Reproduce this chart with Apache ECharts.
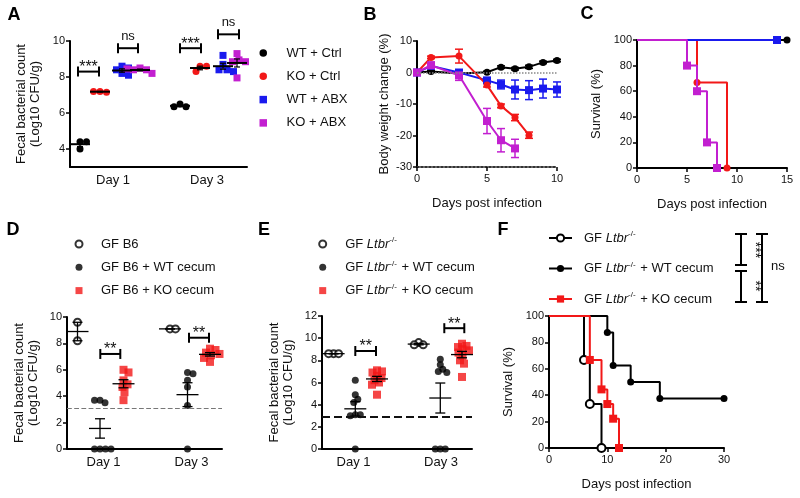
<!DOCTYPE html>
<html>
<head>
<meta charset="utf-8">
<title>Figure</title>
<script src="https://cdn.jsdelivr.net/npm/echarts@6.0.0/dist/echarts.min.js"></script>
<style>
html,body{margin:0;padding:0;background:#ffffff;}
#chart{width:800px;height:498px;}
</style>
</head>
<body>
<div id="chart"></div>
<script>
// ================= DATA =================
const dayLabels = ['Day 1', 'Day 3'];

// Panel A – fecal bacterial count (Log10 CFU/g): [Day 1 values, Day 3 values]
const groupNamesA = ['WT + Ctrl', 'KO + Ctrl', 'WT + ABX', 'KO + ABX'];
const aWTCtrl = [[4.4, 4.4, 4.0], [6.5, 6.35, 6.35]];
const aKOCtrl = [[7.2, 7.15, 7.2], [8.6, 8.6, 8.3]];
const aWTABX  = [[8.6, 8.5, 8.2, 8.1, 8.4], [9.2, 8.7, 8.4, 8.4, 8.3]];
const aKOABX  = [[8.5, 8.4, 8.4, 8.2, 8.45], [9.3, 8.95, 7.95, 8.85, 8.85]];
const sigA = ['***', 'ns', '***', 'ns'];

// Panel B – body weight change (%)
const bDaysWTCtrl = [0, 1, 3, 5, 6, 7, 8, 9, 10];
const bWTCtrl     = [0, 0.3, -0.3, 0.1, 1.7, 1.2, 1.8, 3.2, 3.8];
const bWTCtrlErr  = [0, 0.3, 0.4, 0.3, 0.4, 0.4, 0.5, 0.4, 0.4];
const bDaysKOCtrl = [0, 1, 3, 5, 6, 7, 8];
const bKOCtrl     = [0, 4.8, 5.2, -4.0, -10.6, -14.3, -19.9];
const bKOCtrlErr  = [0, 0.4, 2.2, 0.6, 0.6, 1.0, 1.0];
const bDaysWTABX  = [0, 1, 3, 5, 6, 7, 8, 9, 10];
const bWTABX      = [0, 2.1, 0, -2.5, -3.8, -5.4, -5.6, -5.1, -5.4];
const bWTABXErr   = [0, 0.5, 0.5, 0.8, 1.4, 3.0, 3.0, 3.0, 2.4];
const bDaysKOABX  = [0, 1, 3, 5, 6, 7];
const bKOABX      = [0, 2.3, -0.9, -15.4, -21.5, -24.1];
const bKOABXErr   = [0, 1.0, 1.6, 4.0, 3.7, 2.9];

// Panel C – survival (%)
const cDaysWTCtrl = [0, 15];         const cSurvWTCtrl = [100, 100];
const cDaysKOCtrl = [0, 6, 9];       const cSurvKOCtrl = [100, 66.7, 0];
const cDaysWTABX  = [0, 14];         const cSurvWTABX  = [100, 100];
const cDaysKOABX  = [0, 5, 6, 7, 8]; const cSurvKOABX  = [100, 80, 60, 20, 0];

// Panel D – GF B6 recipients
const groupNamesD = ['GF B6', 'GF B6 + WT cecum', 'GF B6 + KO cecum'];
const dGF = [[9.6, 8.2], [9.1, 9.1]];
const dWT = [[3.7, 3.5, 3.7, 0, 0, 0, 0], [5.8, 5.7, 5.2, 4.7, 3.3, 0]];
const dKO = [[6.0, 5.8, 5.2, 4.9, 4.7, 4.3, 3.7], [7.6, 7.5, 7.3, 7.2, 7.1, 6.9, 6.6]];
const dLimit = 3.05;
const sigD = ['**', '**'];

// Panel E – GF Ltbr-/- recipients
const groupNamesE = ['GF Ltbr-/-', 'GF Ltbr-/- + WT cecum', 'GF Ltbr-/- + KO cecum'];
const eGF = [[8.6, 8.6, 8.6], [9.6, 9.4, 9.4]];
const eWT = [[6.2, 4.9, 4.5, 4.2, 3.1, 3.1, 3.0, 0], [8.1, 7.6, 7.2, 7.0, 6.9, 0, 0, 0]];
const eKO = [[7.1, 7.0, 6.9, 6.6, 6.4, 6.2, 6.0, 5.8, 4.9], [9.5, 9.3, 9.2, 9.0, 8.9, 8.7, 8.4, 8.0, 7.7, 6.5]];
const eLimit = 2.9;
const sigE = ['**', '**'];

// Panel F – survival (%)
const fDaysGF = [0, 6, 7, 9];                const fSurvGF = [100, 66.7, 33.3, 0];
const fDaysWT = [0, 10, 11, 14, 19, 30];     const fSurvWT = [100, 87.5, 62.5, 50, 37.5, 37.5];
const fDaysKO = [0, 7, 9, 10, 11, 12];       const fSurvKO = [100, 66.7, 44.4, 33.3, 22.2, 0];
const sigF = ['***', '**', 'ns'];

// ================= LAYOUT / STYLE =================
const FONT = "'Liberation Sans', Arial, Helvetica, sans-serif";
const RED = '#f21818', BLUE = '#1a1aee', MAG = '#c21fd0', BLK = '#000000';
const GRID = [
  {left: 70,  top: 41,  width: 177, height: 126},   // A
  {left: 417, top: 41,  width: 140, height: 126},   // B
  {left: 637, top: 40,  width: 150, height: 128},   // C
  {left: 67,  top: 317, width: 155, height: 132},   // D
  {left: 322, top: 316, width: 150, height: 133},   // E
  {left: 549, top: 316, width: 175, height: 132}    // F
];
// group centre positions along the (pixel-like) x range of A, D, E: [day1, day3]
const posA = [[10, 110], [30, 130], [52, 153], [70, 167]];
const dayPosA = [43, 137];
const bracketA = [[8, 29, 8.3], [48, 68, 9.6], [110, 131, 9.6], [148, 169, 10.37]];
const posD = [[10.5, 103], [33, 120.5], [56.5, 143]];
const dayPosD = [36.5, 124.5];
const bracketD = [[33.3, 53.3, 7.2], [122, 142, 8.43]];
const posE = [[11.6, 96.7], [33.3, 118.3], [55, 140]];
const dayPosE = [31.6, 119];
const bracketE = [[33.3, 54, 8.84], [122.3, 142.3, 10.9]];

function meanSem(arr) {
  const n = arr.length;
  const m = arr.reduce((a, b) => a + b, 0) / n;
  const sd = Math.sqrt(arr.reduce((a, b) => a + (b - m) * (b - m), 0) / (n - 1));
  return [m, sd / Math.sqrt(n)];
}
// simple beeswarm: horizontal pixel offsets so markers do not overlap
function swarmData(vals, pos, ppu, dist) {
  const out = [];
  vals.forEach((arr, d) => {
    const placed = [];
    arr.forEach(v => {
      const py = v * ppu;
      let dx = 0;
      for (let k = 0; k < 200; k++) {
        const c = (k % 2 ? 1 : -1) * Math.ceil(k / 2) * 0.5;
        if (placed.every(p => (p.dx - c) ** 2 + (p.py - py) ** 2 >= dist * dist)) { dx = c; break; }
      }
      placed.push({dx, py});
      out.push({value: [pos[d], v], symbolOffset: [dx, 0]});
    });
  });
  return out;
}
function zip(xs, ys) { return xs.map((x, i) => [x, ys[i]]); }

const axisLine = {show: true, onZero: false, lineStyle: {color: '#000', width: 2}};
const axisTick = {show: true, length: 4, lineStyle: {color: '#000', width: 1.5}};
const axisLabel = {color: '#111', fontSize: 11, fontFamily: FONT, margin: 5};
const noSplit = {show: false};
const nameStyle = {color: '#111', fontSize: 13, fontFamily: FONT, lineHeight: 14};

function valueY(i, min, max, interval, name, gap, custom) {
  const ax = {gridIndex: i, type: 'value', min, max, interval, axisLine, axisTick, splitLine: noSplit,
    axisLabel: Object.assign({}, axisLabel), name, nameLocation: 'middle', nameRotate: 90, nameGap: gap, nameTextStyle: nameStyle};
  if (custom) { ax.axisLabel.customValues = custom; ax.axisTick = Object.assign({}, axisTick, {customValues: custom}); delete ax.interval; }
  return ax;
}
function dayX(i, max, dayPos) {
  return {gridIndex: i, type: 'value', min: 0, max, axisLine, axisTick: {show: false}, splitLine: noSplit,
    axisLabel: {color: '#111', fontSize: 13, fontFamily: FONT, margin: 7, customValues: dayPos,
      formatter: v => { const k = dayPos.findIndex(p => Math.abs(p - v) < 0.01); return k >= 0 ? dayLabels[k] : ''; }}};
}
function numX(i, max, interval, name) {
  return {gridIndex: i, type: 'value', min: 0, max, interval, axisLine, axisTick, splitLine: noSplit,
    axisLabel: Object.assign({}, axisLabel, {margin: 6}), name, nameLocation: 'middle', nameGap: 29, nameTextStyle: nameStyle};
}

function meanSeries(ai, groups, pos, hw, cw, lwMean, lwBar) {
  const data = [];
  groups.forEach((g, gi) => g.forEach((arr, d) => { const ms = meanSem(arr); data.push([pos[gi][d], ms[0], ms[1]]); }));
  return {type: 'custom', xAxisIndex: ai, yAxisIndex: ai, z: 6, clip: false, silent: true, data, encode: {x: 0, y: 1},
    renderItem(params, api) {
      const x = api.value(0), m = api.value(1), s = api.value(2);
      const c = api.coord([x, m]), t = api.coord([x, m + s]), b = api.coord([x, m - s]);
      const st = {stroke: '#000', lineWidth: lwBar};
      return {type: 'group', children: [
        {type: 'line', shape: {x1: c[0] - hw, y1: c[1], x2: c[0] + hw, y2: c[1]}, style: {stroke: '#000', lineWidth: lwMean}},
        {type: 'line', shape: {x1: c[0], y1: t[1], x2: c[0], y2: b[1]}, style: st},
        {type: 'line', shape: {x1: c[0] - cw, y1: t[1], x2: c[0] + cw, y2: t[1]}, style: st},
        {type: 'line', shape: {x1: c[0] - cw, y1: b[1], x2: c[0] + cw, y2: b[1]}, style: st}
      ]};
    }};
}
function bracketSeries(ai, spans, labels) {
  return {type: 'custom', xAxisIndex: ai, yAxisIndex: ai, z: 7, clip: false, silent: true,
    data: spans.map(s => [s[0], s[1], s[2]]), encode: {x: [0, 1], y: 2},
    renderItem(params, api) {
      const p1 = api.coord([api.value(0), api.value(2)]), p2 = api.coord([api.value(1), api.value(2)]);
      const lab = labels[params.dataIndex];
      const star = lab.indexOf('*') >= 0;
      const st = {stroke: '#000', lineWidth: 2};
      return {type: 'group', children: [
        {type: 'line', shape: {x1: p1[0], y1: p1[1], x2: p2[0], y2: p2[1]}, style: st},
        {type: 'line', shape: {x1: p1[0], y1: p1[1] - 5, x2: p1[0], y2: p1[1] + 5}, style: st},
        {type: 'line', shape: {x1: p2[0], y1: p2[1] - 5, x2: p2[0], y2: p2[1] + 5}, style: st},
        {type: 'text', x: (p1[0] + p2[0]) / 2, y: p1[1] - (star ? 4 : 12),
          style: {text: lab, fill: '#111', font: (star ? '16px ' : '13px ') + FONT, align: 'center', verticalAlign: 'middle'}}
      ]};
    }};
}
function errSeries(ai, xs, ys, es, color) {
  return {type: 'custom', xAxisIndex: ai, yAxisIndex: ai, z: 2, silent: true, clip: false,
    data: xs.map((x, i) => [x, ys[i], es[i]]), encode: {x: 0, y: 1},
    renderItem(params, api) {
      const x = api.value(0), y = api.value(1), e = api.value(2);
      if (!e) return null;
      const t = api.coord([x, y + e]), b = api.coord([x, y - e]);
      const st = {stroke: color, lineWidth: 1.5};
      return {type: 'group', children: [
        {type: 'line', shape: {x1: t[0], y1: t[1], x2: b[0], y2: b[1]}, style: st},
        {type: 'line', shape: {x1: t[0] - 4, y1: t[1], x2: t[0] + 4, y2: t[1]}, style: st},
        {type: 'line', shape: {x1: b[0] - 4, y1: b[1], x2: b[0] + 4, y2: b[1]}, style: st}
      ]};
    }};
}
function weightSeries(name, xs, ys, color, symbol, size) {
  return {type: 'line', name, xAxisIndex: 1, yAxisIndex: 1, data: zip(xs, ys), symbol, symbolSize: size,
    showSymbol: true, lineStyle: {color, width: 2}, itemStyle: {color}, z: 3, silent: true};
}
function survSeries(name, ai, ts, ss, color, symbol, size, z, empty) {
  return {type: 'line', name, xAxisIndex: ai, yAxisIndex: ai, step: 'end', symbol, symbolSize: size, showSymbol: true,
    lineStyle: {color, width: 2}, itemStyle: empty ? {color, borderColor: color, borderWidth: 2} : {color},
    data: ts.map((t, i) => i === 0 ? {value: [t, ss[i]], symbol: 'none'} : [t, ss[i]]), z, silent: true, clip: false};
}

// ================= SERIES =================
const series = [];
// A
const aGroups = [aWTCtrl, aKOCtrl, aWTABX, aKOABX];
const aColors = [BLK, RED, BLUE, MAG];
const aSymbols = ['circle', 'circle', 'rect', 'rect'];
aGroups.forEach((g, gi) => series.push({type: 'scatter', name: groupNamesA[gi], xAxisIndex: 0, yAxisIndex: 0,
  symbol: aSymbols[gi], symbolSize: 7, itemStyle: {color: aColors[gi], opacity: 1}, z: 3, silent: true,
  data: swarmData(g, posA[gi], 18, 6.5)}));
series.push(meanSeries(0, aGroups, posA, 10, 3, 2, 1.2));
series.push(bracketSeries(0, bracketA, sigA));
// B
series.push(weightSeries('WT + Ctrl', bDaysWTCtrl, bWTCtrl, BLK, 'circle', 7));
series.push(weightSeries('WT + ABX', bDaysWTABX, bWTABX, BLUE, 'rect', 8));
series.push(weightSeries('KO + Ctrl', bDaysKOCtrl, bKOCtrl, RED, 'circle', 7));
series.push(weightSeries('KO + ABX', bDaysKOABX, bKOABX, MAG, 'rect', 8));
series.push(errSeries(1, bDaysWTCtrl, bWTCtrl, bWTCtrlErr, BLK));
series.push(errSeries(1, bDaysWTABX, bWTABX, bWTABXErr, BLUE));
series.push(errSeries(1, bDaysKOCtrl, bKOCtrl, bKOCtrlErr, RED));
series.push(errSeries(1, bDaysKOABX, bKOABX, bKOABXErr, MAG));
series[series.length - 4].markLine = {silent: true, symbol: 'none', label: {show: false},
  lineStyle: {color: '#888', type: 'dotted', width: 1.5}, data: [{yAxis: 0}]};
// C (drawn bottom to top: black, red, blue, magenta)
series.push(survSeries('WT + Ctrl', 2, cDaysWTCtrl, cSurvWTCtrl, BLK, 'circle', 7, 2));
series.push(survSeries('KO + Ctrl', 2, cDaysKOCtrl, cSurvKOCtrl, RED, 'circle', 7, 3));
series.push(survSeries('WT + ABX', 2, cDaysWTABX, cSurvWTABX, BLUE, 'rect', 8, 5));
const magSurv = survSeries('KO + ABX', 2, cDaysKOABX, cSurvKOABX, MAG, 'rect', 8, 9);
magSurv.zlevel = 1;
series.push(magSurv);
// D
const dGroups = [dGF, dWT, dKO];
const dSym = ['emptyCircle', 'circle', 'rect'];
const dCol = [BLK, BLK, RED];
const dSize = [7, 7, 8];
dGroups.forEach((g, gi) => series.push({type: 'scatter', name: groupNamesD[gi], xAxisIndex: 3, yAxisIndex: 3,
  symbol: dSym[gi], symbolSize: dSize[gi], z: 3, silent: true,
  itemStyle: gi === 0 ? {color: BLK, borderColor: BLK, borderWidth: 1.8} : {color: dCol[gi]},
  data: swarmData(g, posD[gi], 13.2, 5.5)}));
series[series.length - 3].markLine = {silent: true, symbol: 'none', label: {show: false},
  lineStyle: {color: '#777', type: 'dashed', width: 1.2}, data: [{yAxis: dLimit}]};
series.push(meanSeries(3, dGroups, posD, 11, 5, 1.3, 1.3));
series.push(bracketSeries(3, bracketD, sigD));
// E
const eGroups = [eGF, eWT, eKO];
eGroups.forEach((g, gi) => series.push({type: 'scatter', name: groupNamesE[gi], xAxisIndex: 4, yAxisIndex: 4,
  symbol: dSym[gi], symbolSize: dSize[gi], z: 3, silent: true,
  itemStyle: gi === 0 ? {color: BLK, borderColor: BLK, borderWidth: 1.8} : {color: dCol[gi]},
  data: swarmData(g, posE[gi], 11.08, 5)}));
series[series.length - 3].markLine = {silent: true, symbol: 'none', label: {show: false},
  lineStyle: {color: '#111', type: 'dashed', width: 2}, data: [{yAxis: eLimit}]};
series.push(meanSeries(4, eGroups, posE, 11, 5, 1.3, 1.3));
series.push(bracketSeries(4, bracketE, sigE));
// F (legend names carry a trailing space so they stay separate from panel E)
series.push(survSeries(groupNamesE[1] + ' ', 5, fDaysWT, fSurvWT, BLK, 'circle', 7, 2));
series.push(survSeries(groupNamesE[0] + ' ', 5, fDaysGF, fSurvGF, BLK, 'emptyCircle', 8, 3, true));
series.push(survSeries(groupNamesE[2] + ' ', 5, fDaysKO, fSurvKO, RED, 'rect', 8, 4));

// ================= LEGENDS =================
const richLegend = {
  n: {fontSize: 13, fontFamily: FONT, color: '#111', lineHeight: 16},
  i: {fontSize: 13, fontFamily: FONT, color: '#111', fontStyle: 'italic', lineHeight: 16},
  s: {fontSize: 8, fontFamily: FONT, color: '#111', verticalAlign: 'top', lineHeight: 16, padding: [0, 1, 0, 0]}
};
function ltbrFmt(name) {
  const t = name.trim();
  const rest = t.replace('GF Ltbr-/-', '');
  return '{n|GF }{i|Ltbr}{s|-/-}' + (rest ? '{n|' + rest + '}' : '');
}
const legTxt = {fontSize: 13, fontFamily: FONT, color: '#111', lineHeight: 16};
const legends = [
  {orient: 'vertical', left: 259.5, top: 45, padding: 0, itemWidth: 7.5, itemHeight: 7.5, itemGap: 7.3,
    data: groupNamesA, textStyle: Object.assign({}, legTxt, {padding: [0, 0, 0, 14.5]}), selectedMode: false},
  {orient: 'vertical', left: 74.5, top: 236, padding: 0, itemWidth: 7, itemHeight: 7, itemGap: 7.3,
    data: groupNamesD, textStyle: Object.assign({}, legTxt, {padding: [0, 0, 0, 13.5]}), selectedMode: false},
  {orient: 'vertical', left: 318.2, top: 236, padding: 0, itemWidth: 7, itemHeight: 7, itemGap: 7.3,
    data: groupNamesE, textStyle: Object.assign({}, legTxt, {rich: richLegend, padding: [0, 0, 0, 14]}), formatter: ltbrFmt, selectedMode: false},
  {orient: 'vertical', left: 548, top: 230, padding: 0, itemWidth: 23, itemHeight: 9, itemGap: 14.5,
    data: groupNamesE.map(n => n + ' '), textStyle: Object.assign({}, legTxt, {rich: richLegend, padding: [0, 0, 0, 7]}),
    formatter: ltbrFmt, selectedMode: false}
];

// ================= GRAPHIC (panel letters, panel F comparisons) =================
const letter = (t, x, y) => ({type: 'text', x, y, style: {text: t, font: 'bold 18px ' + FONT, fill: '#000', align: 'center', verticalAlign: 'middle'}});
const seg = (x1, y1, x2, y2) => ({type: 'line', shape: {x1, y1, x2, y2}, style: {stroke: '#000', lineWidth: 2}});
const graphic = [
  letter('A', 14, 15), letter('B', 370, 15), letter('C', 587, 14),
  letter('D', 13, 230), letter('E', 264, 230), letter('F', 503, 230),
  seg(741, 234, 741, 265), seg(735, 234, 747, 234), seg(735, 265, 747, 265),
  seg(741, 271, 741, 302), seg(735, 271, 747, 271), seg(735, 302, 747, 302),
  seg(762, 234, 762, 302), seg(756, 234, 768, 234), seg(756, 302, 768, 302),
  {type: 'text', x: 748, y: 250, rotation: -Math.PI / 2, style: {text: sigF[0], font: '14px ' + FONT, fill: '#111', align: 'center', verticalAlign: 'bottom'}},
  {type: 'text', x: 748, y: 286, rotation: -Math.PI / 2, style: {text: sigF[1], font: '14px ' + FONT, fill: '#111', align: 'center', verticalAlign: 'bottom'}},
  {type: 'text', x: 771, y: 266, style: {text: sigF[2], font: '13px ' + FONT, fill: '#111', align: 'left', verticalAlign: 'middle'}}
];

const option = {
  animation: false,
  backgroundColor: '#ffffff',
  textStyle: {fontFamily: FONT},
  grid: GRID,
  xAxis: [
    dayX(0, 177, dayPosA),
    numX(1, 10, 5, 'Days post infection'),
    numX(2, 15, 5, 'Days post infection'),
    dayX(3, 155, dayPosD),
    dayX(4, 150, dayPosE),
    numX(5, 30, 10, 'Days post infection')
  ],
  yAxis: [
    valueY(0, 3, 10, null, 'Fecal bacterial count\n(Log10 CFU/g)', 28, [4, 6, 8, 10]),
    valueY(1, -30, 10, 10, 'Body weight change (%)', 26),
    valueY(2, 0, 100, 20, 'Survival (%)', 34),
    valueY(3, 0, 10, 2, 'Fecal bacterial count\n(Log10 CFU/g)', 27),
    valueY(4, 0, 12, 2, 'Fecal bacterial count\n(Log10 CFU/g)', 27),
    valueY(5, 0, 100, 20, 'Survival (%)', 34)
  ],
  legend: legends,
  graphic,
  series
};
// dotted bottom axis line in panel B
option.xAxis[1].axisLine = {show: true, onZero: false, lineStyle: {color: '#333', width: 2, type: 'dotted'}};

const chart = echarts.init(document.getElementById('chart'), null, {renderer: 'canvas'});
chart.setOption(option);
</script>
</body>
</html>
